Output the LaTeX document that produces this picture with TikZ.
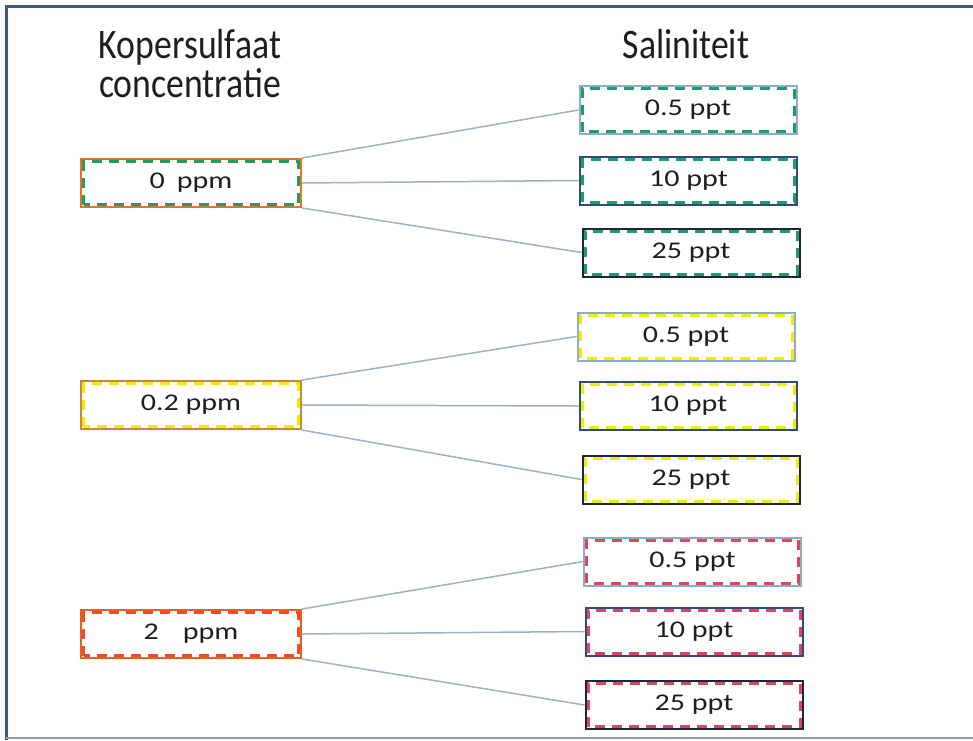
\documentclass[tikz,border=0pt]{standalone}
\usepackage{fontspec}
\setmainfont{Carlito}[FakeStretch=1.25]
\newfontfamily\headfont{Carlito}[FakeStretch=0.85]
\definecolor{frameblue}{HTML}{3D5A80}
\definecolor{framelight}{HTML}{8C9AB8}
\definecolor{linkgray}{HTML}{9DB0C8}
\definecolor{txt}{HTML}{1E1E1E}
\definecolor{orA}{HTML}{E8731E}
\definecolor{orB}{HTML}{C8883A}
\definecolor{orC}{HTML}{E8601E}
\definecolor{edgeA}{HTML}{8FAACB}
\definecolor{edgeB}{HTML}{2E4C7E}
\definecolor{edgeC}{HTML}{1C2640}
\definecolor{dashG}{HTML}{1E9E64}
\definecolor{dashY}{HTML}{EEEE00}
\definecolor{dashR}{HTML}{E0465A}
\definecolor{dashO}{HTML}{F04A2A}
\tikzset{
  head/.style={font=\headfont\fontsize{42}{50}\selectfont, text=txt, anchor=base, inner sep=0pt},
  concbox/.style={draw=#1, line width=2pt, minimum width=220pt, minimum height=48pt,
    inner sep=0pt, font=\fontsize{24}{28}\selectfont, text=txt},
  salbox/.style={draw=#1, line width=2pt, minimum width=217pt, minimum height=48pt,
    inner sep=0pt, font=\fontsize{24}{28}\selectfont, text=txt},
  innerdash/.style={draw=#1, line width=3pt, dash pattern=on 10pt off 7pt},
  link/.style={draw=linkgray, line width=1.5pt},
}
% dashed rectangle set just inside a box
\newcommand\dashin[2]{%
  \draw[innerdash=#2] ([shift={(3.5pt,3.5pt)}]#1.south west) rectangle ([shift={(-3.5pt,-3.5pt)}]#1.north east);}
\begin{document}
\begin{tikzpicture}[x=1pt,y=-1pt]
\useasboundingbox (0,0) rectangle (973,740);
% frame
\draw[frameblue, line width=3pt] (6,740) -- (6,6) -- (973,6);
\draw[framelight, line width=1.5pt] (6,738) -- (973,738);

% headers
\node[head] (hk1) at (190,58) {Kopersulfaat};
\node[head] (hk2) at (190,97) {concentratie};
\node[head] (hs) at (686,58) {Saliniteit};

% concentration boxes
\node[concbox=orA] (c0) at (191,183) {0\hspace{0.5em}ppm};
\node[concbox=orB] (c1) at (191,405) {0.2 ppm};
\node[concbox=orC] (c2) at (191,634) {2\hspace{1em}ppm};
\dashin{c0}{dashG}
\dashin{c1}{dashY}
\dashin{c2}{dashO}

% salinity boxes
\node[salbox=edgeA] (s00) at (688,110) {0.5 ppt};
\node[salbox=edgeB] (s01) at (688.5,180.5) {10 ppt};
\node[salbox=edgeC] (s02) at (691,252.5) {25 ppt};
\node[salbox=edgeA] (s10) at (686,336.5) {0.5 ppt};
\node[salbox=edgeB] (s11) at (688,406) {10 ppt};
\node[salbox=edgeC] (s12) at (691,479.5) {25 ppt};
\node[salbox=edgeA] (s20) at (692.5,561.5) {0.5 ppt};
\node[salbox=edgeB] (s21) at (694,631.5) {10 ppt};
\node[salbox=edgeC] (s22) at (694,705) {25 ppt};
\foreach \n in {s00,s01,s02}{\dashin{\n}{dashG}}
\foreach \n in {s10,s11,s12}{\dashin{\n}{dashY}}
\foreach \n in {s20,s21,s22}{\dashin{\n}{dashR}}

% connectors
\foreach \c/\g in {c0/s0,c1/s1,c2/s2}{
  \draw[link] (\c.north east) -- (\g0.west);
  \draw[link] (\c.east) -- (\g1.west);
  \draw[link] (\c.south east) -- (\g2.west);
}
\end{tikzpicture}
\end{document}
